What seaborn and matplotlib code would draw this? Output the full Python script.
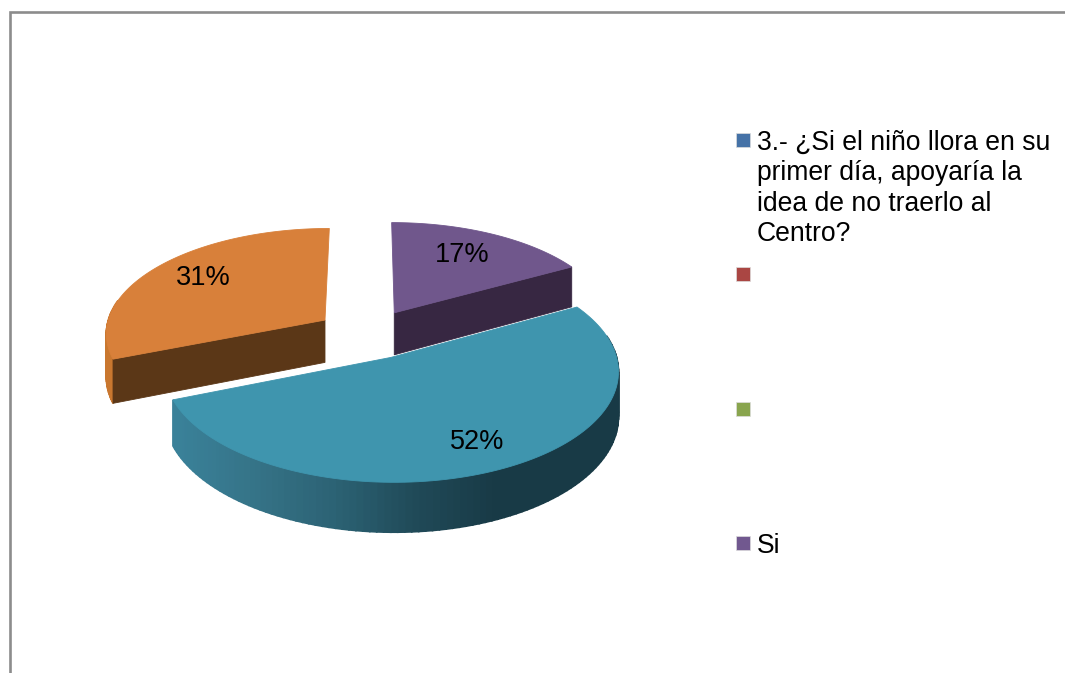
import numpy as np
import matplotlib
matplotlib.use("Agg")
import matplotlib.pyplot as plt
import seaborn as sns

# data
valores = [17, 52, 31]
explosion = [0.24, 0.24, 0.24]
dist_etiqueta = [0.68, 0.80, 0.72]

leyenda = ["3.- ¿Si el niño llora en su\nprimer día, apoyaría la\nidea de no traerlo al\nCentro?", "", "", "Si"]
color_leyenda = ["#4572A7", "#AA4643", "#89A54E", "#71588F"]

color_top = ["#70578C", "#3F95AE", "#D8803A"]
color_corte = ["#372742", "#1A3C48", "#5B3717"]
color_borde = ["#372742", "#1A3C48", "#C9772F"]
# which cut face can be seen: 0 start, -1 end, None hidden
cara_visible = [-1, None, 0]

# geometry of the fake 3d pie, in pixels
CX, CY = 368, 334
RX, RY = 220, 105
ALTO = 43
P = 0.1137

sns.set_theme(style="white")
plt.rcParams['font.family'] = ['Liberation Sans', 'DejaVu Sans']

degradado = sns.blend_palette(["#3A8199", "#357387", "#2C6274", "#204A58", "#183A46"], as_cmap=True)


def proyecta(x, y, z=0):
    s = 1 / (1 + P * y)
    return CX + RX * x * s, CY - RY * y * s + ALTO * z * s


fig = plt.figure(figsize=(10.65, 6.73), dpi=100)
ax = fig.add_axes([0, 0, 1, 1])
ax.set_xlim(0, 1065)
ax.set_ylim(673, 0)
ax.axis("off")

# frame, only top and left are visible
ax.plot([10, 10, 1065], [673, 12, 12], color="#8C8C8C", lw=1.9, solid_joinstyle="miter")

angulos = np.concatenate([[0], np.cumsum(valores)]) * 360 / sum(valores)

for i in [2, 0, 1]:
    t = np.radians(np.linspace(angulos[i], angulos[i + 1], 120))
    medio = np.radians((angulos[i] + angulos[i + 1]) / 2)
    ox = explosion[i] * np.sin(medio)
    oy = explosion[i] * np.cos(medio)
    x = ox + np.sin(t)
    y = oy + np.cos(t)

    # outer side, strip by strip, only the part facing the viewer
    x0, y0 = proyecta(x, y)
    x1, y1 = proyecta(x, y, 1)
    for k in range(len(t) - 1):
        if np.cos(t[k]) > 0.2 or np.cos(t[k + 1]) > 0.2:
            continue
        c = color_borde[i]
        if i == 1:
            c = degradado(np.clip((x0[k] - 178) / 320, 0, 1))
        ax.fill([x0[k], x0[k + 1], x1[k + 1], x1[k]], [y0[k], y0[k + 1], y1[k + 1], y1[k]],
                color=c, lw=1.2)

    # cut face
    ax0, ay0 = proyecta(ox, oy)
    ax1, ay1 = proyecta(ox, oy, 1)
    j = cara_visible[i]
    if j is not None:
        ax.fill([ax0, x0[j], x1[j], ax1], [ay0, y0[j], y1[j], ay1], color=color_corte[i], lw=0.6)

    # top
    ax.fill(np.r_[ax0, x0], np.r_[ay0, y0], color=color_top[i], lw=0.6)

    lx, ly = proyecta(ox + dist_etiqueta[i] * np.sin(medio), oy + dist_etiqueta[i] * np.cos(medio))
    ax.text(lx, ly - 3, f"{valores[i]}%", fontsize=19.5, color="black", ha="center", va="center")

# legend, drawn by hand because of the empty entries
for i, texto in enumerate(leyenda):
    ym = 140 + i * 134.3
    ax.scatter([743], [ym], marker="s", s=108, color=color_leyenda[i], edgecolor="#DDDDDD", linewidth=0.5)
    ax.text(757, ym - 10, texto, fontsize=19.1, color="black", ha="left", va="top", linespacing=1.22)

fig.savefig("out.png", dpi=100)
